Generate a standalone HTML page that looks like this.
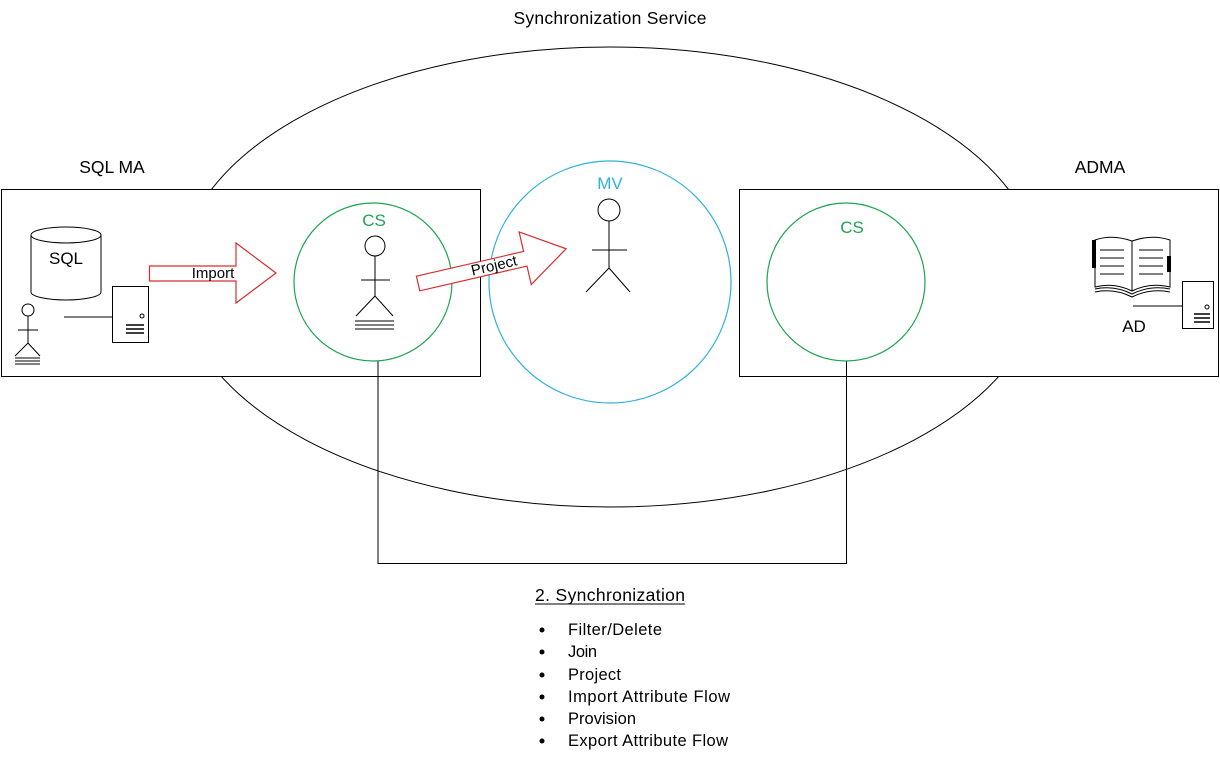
<!DOCTYPE html>
<html><head><style>
body{margin:0;background:#fff;font-family:"Liberation Sans",sans-serif;}
</style></head><body>
<div style="position:relative;width:1220px;height:761px;overflow:hidden">
<svg width="1220" height="761" style="position:absolute;left:0;top:0" font-family="Liberation Sans, sans-serif">
<ellipse cx="610" cy="277" rx="431" ry="230" fill="none" stroke="#000" stroke-width="1"/>
<rect x="1.5" y="189.5" width="479" height="187" fill="#fff" stroke="#000"/>
<rect x="739.5" y="189.5" width="479" height="187" fill="#fff" stroke="#000"/>
<polyline points="378,361 378,563.5 846.5,563.5 846.5,361" fill="none" stroke="#000"/>
<circle cx="373" cy="282" r="79" fill="none" stroke="#1ea350" stroke-width="1.2"/>
<circle cx="610" cy="282" r="121" fill="#fff" stroke="#2fb2d8" stroke-width="1.2"/>
<circle cx="846" cy="282" r="79" fill="none" stroke="#1ea350" stroke-width="1.2"/>
<path d="M31,235 L31,292 A35,8 0 0 0 101,292 L101,235" fill="#fff" stroke="#000"/>
<ellipse cx="66" cy="235" rx="35" ry="8" fill="#fff" stroke="#000"/>
<text x="66" y="264" font-size="17" text-anchor="middle">SQL</text>
<line x1="64" y1="317" x2="113" y2="317" stroke="#000"/>
<rect x="112.5" y="286.5" width="36" height="56" fill="#fff" stroke="#000"/>
<circle cx="142" cy="316" r="2" fill="none" stroke="#000"/>
<g stroke="#000" stroke-width="1.5"><line x1="126" y1="325" x2="144" y2="325"/><line x1="126" y1="329" x2="144" y2="329"/><line x1="126" y1="333" x2="144" y2="333"/></g>
<g stroke="#000" fill="none">
<circle cx="28" cy="310" r="6"/><line x1="28" y1="316" x2="28" y2="343"/>
<line x1="18" y1="330" x2="38" y2="330"/><line x1="28" y1="343" x2="15" y2="356"/><line x1="28" y1="343" x2="40" y2="356"/>
<line x1="15" y1="358" x2="40" y2="358"/><line x1="15" y1="361" x2="40" y2="361"/><line x1="15" y1="364" x2="40" y2="364"/>
</g>
<g stroke="#000" fill="none">
<circle cx="375" cy="246" r="10"/><line x1="375" y1="256" x2="375" y2="296"/>
<line x1="361" y1="280" x2="390" y2="280"/><line x1="375" y1="296" x2="356" y2="316"/><line x1="375" y1="296" x2="393" y2="316"/>
<line x1="355" y1="321" x2="394" y2="321"/><line x1="355" y1="325" x2="394" y2="325"/><line x1="355" y1="329" x2="394" y2="329"/>
</g>
<g stroke="#000" fill="none">
<circle cx="609" cy="210" r="11"/><line x1="609" y1="221" x2="609" y2="268"/>
<line x1="592" y1="250" x2="627" y2="250"/><line x1="609" y1="268" x2="586" y2="292"/><line x1="609" y1="268" x2="630" y2="292"/>
</g>
<polygon points="149.5,266 236,266 236,243 276,273 236,303 236,281 149.5,281" fill="#fff" stroke="#d62e2e" stroke-width="1.2"/>
<text x="213" y="278" font-size="15" text-anchor="middle">Import</text>
<g transform="translate(418,283) rotate(-13)">
<polygon points="0,-7 110,-7 110,-27 152,0 110,27 110,8 0,8" fill="#fff" stroke="#d62e2e" stroke-width="1.2"/>
<text x="78" y="5" font-size="15" text-anchor="middle">Project</text>
</g>
<g stroke="#000" fill="#fff">
<path d="M1095,240 Q1112,234 1132,241 Q1152,234 1170,240 L1170,287 Q1150,282 1132,291 Q1114,282 1095,287 Z"/>
<line x1="1132" y1="241" x2="1132" y2="291"/>
<path d="M1095,289 Q1114,285 1132,294 Q1150,285 1170,289" fill="none"/>
<path d="M1095,292 Q1114,288 1132,297 Q1150,288 1170,292" fill="none"/>
</g>
<rect x="1092" y="240" width="4" height="28" fill="#000"/>
<rect x="1167" y="256" width="4" height="16" fill="#000"/>
<g stroke="#000" fill="none">
<path d="M1100,250h24M1100,258h24M1100,266h24M1100,274h24M1139,250h24M1139,258h24M1139,266h24M1139,274h24"/>
</g>
<line x1="1133" y1="306" x2="1182" y2="306" stroke="#000"/>
<rect x="1182.5" y="281.5" width="31" height="47" fill="#fff" stroke="#000"/>
<circle cx="1207" cy="307" r="2" fill="none" stroke="#000"/>
<g stroke="#000" stroke-width="1.5"><line x1="1194" y1="314" x2="1210" y2="314"/><line x1="1194" y1="318" x2="1210" y2="318"/><line x1="1194" y1="322" x2="1210" y2="322"/></g>
<text x="1134" y="332" font-size="17" text-anchor="middle">AD</text>
<text x="610" y="24" font-size="17.5" text-anchor="middle" textLength="193">Synchronization Service</text>
<text x="112" y="173" font-size="17.5" text-anchor="middle">SQL MA</text>
<text x="1100" y="173" font-size="17.5" text-anchor="middle">ADMA</text>
<text x="374" y="226" font-size="17" text-anchor="middle" fill="#1ea350">CS</text>
<text x="610" y="189" font-size="17" text-anchor="middle" fill="#2fb2d8">MV</text>
<text x="852" y="233" font-size="17" text-anchor="middle" fill="#1ea350">CS</text>
<text x="535" y="601" font-size="17.5" textLength="150">2. Synchronization</text>
<line x1="535" y1="604" x2="685" y2="604" stroke="#000"/>
<g font-size="16.5">
<text x="568" y="635" textLength="94">Filter/Delete</text>
<text x="568" y="657" textLength="29">Join</text>
<text x="568" y="680" textLength="53">Project</text>
<text x="568" y="702" textLength="162">Import Attribute Flow</text>
<text x="568" y="724" textLength="68">Provision</text>
<text x="568" y="746" textLength="160">Export Attribute Flow</text>
</g>
<g fill="#000">
<circle cx="542" cy="630" r="2.5"/><circle cx="542" cy="652" r="2.5"/><circle cx="542" cy="675" r="2.5"/>
<circle cx="542" cy="697" r="2.5"/><circle cx="542" cy="719" r="2.5"/><circle cx="542" cy="741" r="2.5"/>
</g>
</svg>
</div>
</body></html>
